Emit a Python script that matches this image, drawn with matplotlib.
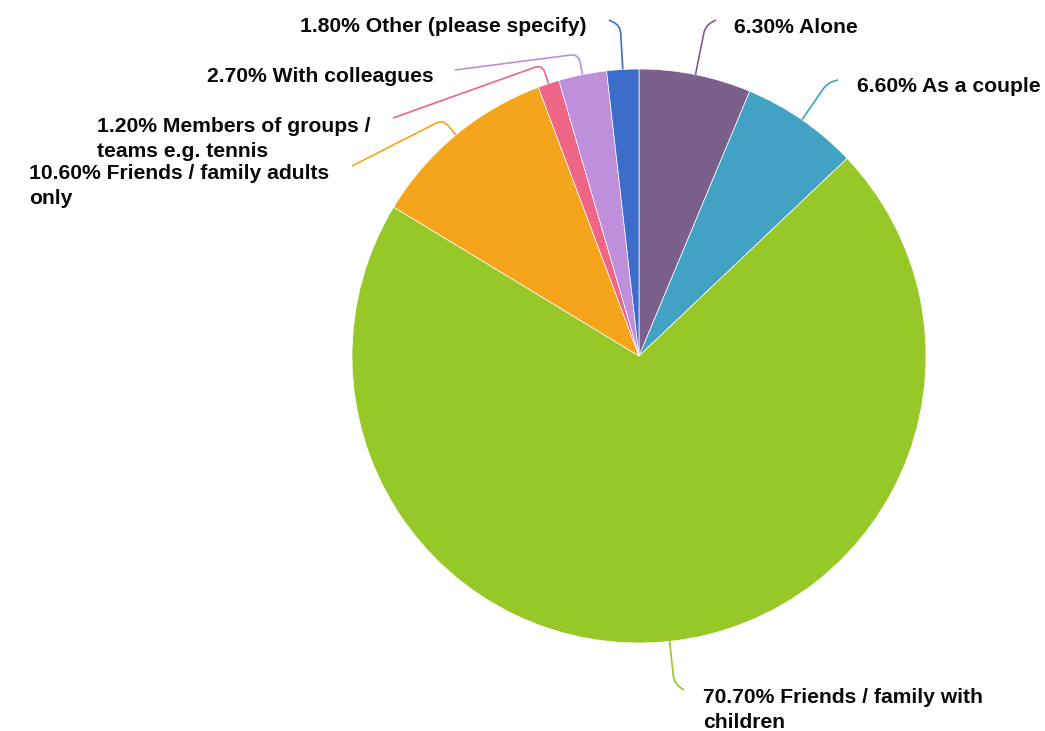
import numpy as np
import matplotlib.pyplot as plt
from matplotlib.path import Path
from matplotlib.patches import PathPatch

plt.rcParams['font.family'] = ['Liberation Sans', 'DejaVu Sans']

W, H = 1045, 731

labels = ['Alone', 'As a couple', 'Friends / family with\nchildren',
          'Friends / family adults\nonly', 'Members of groups /\nteams e.g. tennis',
          'With colleagues', 'Other (please specify)']
values = [6.3, 6.6, 70.7, 10.6, 1.2, 2.7, 1.8]
colors = ['#7B608E', '#41A2C3', '#96C828', '#F4A51B', '#EE6586', '#BE8FDA', '#3D6DCB']

# label layout, pixel coords from top-left: text x, baseline y of last line,
# radial leader length, leader end point
text_pos = [(734, 33), (857, 92), (703, 728), (29, 204), (97, 157), (207, 82), (300, 32)]
leader_len = [50, 45, 42, 20, 20, 21, 44]
leader_end = [(716, 20), (838, 80), (684, 690), (352, 166), (393, 118), (455, 70), (609, 20)]

cx, cy, r = 639, 356, 287

fig = plt.figure(figsize=(W / 100, H / 100), dpi=100)
ax = fig.add_axes([0, 0, 1, 1])
wedges, _ = ax.pie(values, colors=colors, startangle=90, counterclock=False,
                   center=(cx, H - cy), radius=r,
                   wedgeprops=dict(edgecolor='white', linewidth=0.5))


def leader(p0, p1, p2, color):
    p0, p1, p2 = map(np.asarray, (p0, p1, p2))
    u1 = (p1 - p0) / np.linalg.norm(p1 - p0)
    u2 = (p2 - p1) / np.linalg.norm(p2 - p1)
    d = min(8, 0.9 * np.linalg.norm(p2 - p1), 0.5 * np.linalg.norm(p1 - p0))
    a = p1 - d * u1
    b = p1 + d * u2
    path = Path([p0, a, p1, b, p2],
                [Path.MOVETO, Path.LINETO, Path.CURVE3, Path.CURVE3, Path.LINETO])
    ax.add_patch(PathPatch(path, fill=False, edgecolor=color, lw=1.2))


for i, w in enumerate(wedges):
    ang = np.deg2rad((w.theta1 + w.theta2) / 2)
    u = np.array([np.cos(ang), np.sin(ang)])
    p0 = np.array([cx, H - cy]) + r * u
    p1 = p0 + leader_len[i] * u
    ex, ey = leader_end[i]
    leader(p0, p1, (ex, H - ey), colors[i])
    tx, ty = text_pos[i]
    ax.text(tx, H - ty, f'{values[i]:.2f}% {labels[i]}', ha='left', va='baseline',
            fontsize=15.2, fontweight='bold', color='#0a0a0a', linespacing=1.4)

ax.set_xlim(0, W)
ax.set_ylim(0, H)
ax.set_aspect('equal')
ax.axis('off')
fig.savefig('out.png', dpi=100)
